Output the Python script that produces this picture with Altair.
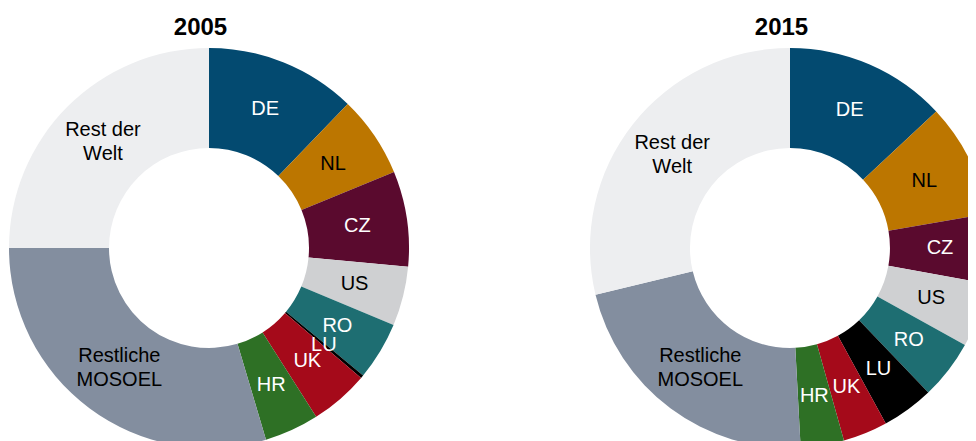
import altair as alt
import pandas as pd

# Data
laender = ["DE", "NL", "CZ", "US", "RO", "LU", "UK", "HR", "Restliche MOSOEL", "Rest der Welt"]
beschriftung = ["DE", "NL", "CZ", "US", "RO", "LU", "UK", "HR", "Restliche\nMOSOEL", "Rest der\nWelt"]
anteil_2005 = [12.2, 6.6, 7.7, 4.8, 4.7, 0.25, 4.75, 4.4, 29.6, 25.0]
anteil_2015 = [13.05, 9.2, 5.6, 5.2, 4.8, 4.2, 3.6, 3.5, 22.1, 28.75]
jahre = ["2005", "2015"]

farben = ["#034a70", "#bc7600", "#5a0a2e", "#cfd0d2", "#1e6e72",
          "#000000", "#a50a1a", "#2e7025", "#838e9f", "#edeef0"]
dunkle_schrift = ["NL", "US", "Restliche MOSOEL", "Rest der Welt"]
zweizeilig = ["Restliche MOSOEL", "Rest der Welt"]

FONT = "Liberation Sans"

x_scale = alt.Scale(type="point", domain=jahre, padding=0.3262, align=0.5303)
x_axis = alt.Axis(orient="top", title=None, ticks=False, domain=False, grid=False,
                  labelFontSize=24, labelFont=FONT, labelFontWeight="bold",
                  labelColor="#000000", labelBaseline="alphabetic", labelPadding=14,
                  labelOffset=-9, labelAngle=0)

text_color = (
    alt.when(alt.FieldOneOfPredicate(field="land", oneOf=dunkle_schrift))
    .then(alt.value("#000000"))
    .otherwise(alt.value("#ffffff"))
)


def donut_layers(values, year):
    df = pd.DataFrame({
        "jahr": [year] * len(laender),
        "land": laender,
        "label": beschriftung,
        "anteil": values,
        "idx": list(range(len(laender))),
    })
    base = alt.Chart(df).encode(
        x=alt.X("jahr:N", scale=x_scale, axis=x_axis),
        y=alt.value(200),
        theta=alt.Theta("anteil:Q", stack=True),
        order=alt.Order("idx:Q", sort="ascending"),
    )
    arc = base.mark_arc(innerRadius=100, outerRadius=200, clip=True).encode(
        color=alt.Color("land:N", scale=alt.Scale(domain=laender, range=farben), legend=None)
    )
    text_props = dict(radius=150, fontSize=20, font=FONT, lineBreak="\n", lineHeight=24,
                      align="center", baseline="middle", clip=True)
    # single-line labels
    text1 = base.mark_text(**text_props).encode(
        text=alt.Text("label:N"),
        color=text_color,
        opacity=alt.when(alt.FieldOneOfPredicate(field="land", oneOf=zweizeilig))
        .then(alt.value(0)).otherwise(alt.value(1)),
    )
    # two-line labels, block centred on the segment middle
    text2 = base.mark_text(dy=-12, **text_props).encode(
        text=alt.Text("label:N"),
        color=text_color,
        opacity=alt.when(alt.FieldOneOfPredicate(field="land", oneOf=zweizeilig))
        .then(alt.value(1)).otherwise(alt.value(0)),
    )
    return [arc, text1, text2]


chart = alt.layer(
    *donut_layers(anteil_2005, jahre[0]),
    *donut_layers(anteil_2015, jahre[1]),
).resolve_scale(theta="independent").properties(
    width=960,
    height=401,
    autosize=alt.AutoSizeParams(type="none"),
    padding={"top": 40, "left": 0, "right": 0, "bottom": 0},
).configure_view(stroke=None)

chart.save("out.html", embed_options={"renderer": "svg", "actions": False})
